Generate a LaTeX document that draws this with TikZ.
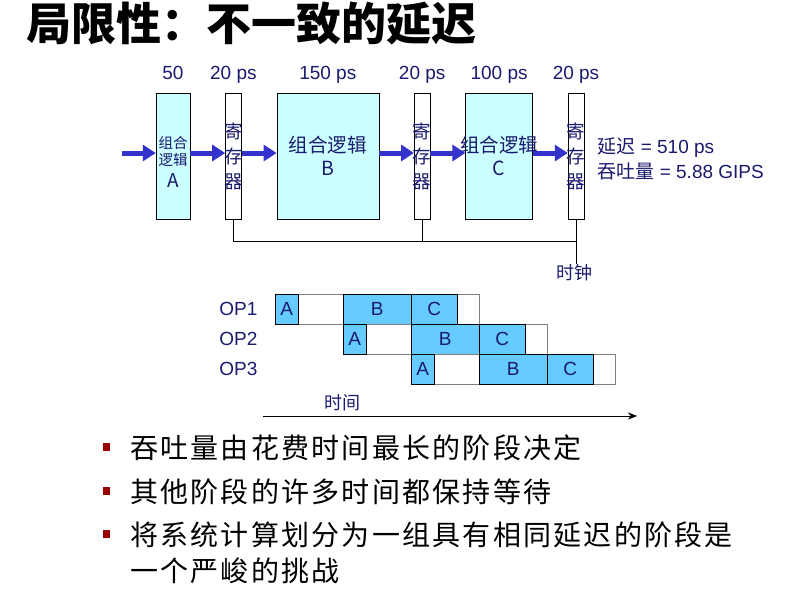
\documentclass[tikz,border=0pt]{standalone}
\usepackage{fontspec}
\setmainfont{Liberation Sans}
\newfontfamily\cjk{Noto Sans CJK SC}
\newfontfamily\cjkwide[LetterSpace=8]{Noto Sans CJK SC}
\usetikzlibrary{arrows.meta,positioning}

\definecolor{navy}{RGB}{26,26,110}
\definecolor{flowblue}{RGB}{51,51,204}
\definecolor{combfill}{RGB}{204,255,255}
\definecolor{cellfill}{RGB}{102,204,255}
\definecolor{bulletred}{RGB}{153,0,0}

\begin{document}
\begin{tikzpicture}[x=1pt, y=-1pt,
  comb/.style={rectangle, draw=black, fill=combfill, inner sep=0pt, minimum height=126pt},
  combtxt/.style={font=\cjk\fontsize{19.5}{23}\selectfont, text=navy, align=center, inner sep=0pt},
  reg/.style={rectangle, draw=black, fill=white, inner sep=0pt, minimum width=16pt, minimum height=126pt},
  regtxt/.style={font=\cjk\fontsize{18.5}{25}\selectfont, text=navy, align=center, inner sep=0pt},
  flow/.style={-{Triangle[length=13pt,width=16pt]}, line width=5pt, flowblue},
  delay/.style={font=\fontsize{19}{25}\selectfont, text=navy},
  toplabel/.style={delay, text height=14pt, text depth=4pt},
  slot/.style={rectangle, draw=gray, fill=white, inner sep=0pt, anchor=north west,
    minimum width=204pt, minimum height=30pt},
  cell/.style={rectangle, draw=black, fill=cellfill, inner sep=0pt, anchor=north west,
    minimum height=30pt, font=\fontsize{19}{22}\selectfont, text=navy},
  point/.style={font=\cjkwide\fontsize{28}{36}\selectfont, inner sep=0pt, align=left},
  node distance=35pt
]
  \useasboundingbox (0,0) rectangle (798,600);

  % title
  \node[anchor=west, font=\cjk\bfseries\fontsize{45}{48}\selectfont] (title) at (23,24) {局限性：不一致的延迟};

  % pipeline
  \node[comb, minimum width=34pt] (A) at (173,156) {};
  \node[reg, right=of A] (r1) {};
  \node[comb, minimum width=102pt, right=of r1] (B) {};
  \node[reg, right=of B] (r2) {};
  \node[comb, minimum width=67pt, right=of r2] (C) {};
  \node[reg, right=of C] (r3) {};
  \node[combtxt, font=\cjk\fontsize{14.5}{17}\selectfont] (Atxt) at ([yshift=-6pt]A) {组合\\逻辑\\[5pt]\fontsize{19}{22}\selectfont A};
  \node[combtxt] (Btxt) at (B) {组合逻辑\\B};
  \node[combtxt] (Ctxt) at (C) {组合逻辑\\C};
  \foreach \r in {r1,r2,r3}
    \node[regtxt] (\r txt) at (\r) {寄\\存\\器};

  % delays
  \node[toplabel, above=6pt of A] (dA) {50};
  \node[toplabel, above=6pt of r1] (d1) {20 ps};
  \node[toplabel, above=6pt of B] (dB) {150 ps};
  \node[toplabel, above=6pt of r2] (d2) {20 ps};
  \node[toplabel, above=6pt of C] (dC) {100 ps};
  \node[toplabel, above=6pt of r3] (d3) {20 ps};

  % flow arrows
  \coordinate (in) at (122,153);
  \draw[flow] (in) -- (in -| A.west);
  \draw[flow] ([yshift=3pt]A.east) -- ([yshift=3pt]r1.west);
  \draw[flow] ([yshift=3pt]r1.east) -- ([yshift=3pt]B.west);
  \draw[flow] ([yshift=3pt]B.east) -- ([yshift=3pt]r2.west);
  \draw[flow] ([yshift=3pt]r2.east) -- ([yshift=3pt]C.west);
  \draw[flow] ([yshift=3pt]C.east) -- ([yshift=3pt]r3.west);

  \node[delay, anchor=west, align=left] (perf) at (594,159)
    {{\cjk 延迟} = 510 ps\\{\cjk 吞吐量} = 5.88 GIPS};

  % clock
  \node[font=\cjk\fontsize{18}{22}\selectfont, text=navy, anchor=north, inner sep=0pt] (clk) at (574,264) {时钟};
  \draw (r1.south) -- ++(0,22) coordinate (tap) -| (r3.south);
  \draw (r2.south) -- (r2.south |- tap);
  \draw (r3.south) -- (r3.south |- clk.north);

  % timing
  \foreach \i/\op in {0/1,1/2,2/3} {
    \node[slot] (s\op) at ({275+68*\i},{294+30*\i}) {};
    \node[cell, minimum width=23pt] (a\op) at ({275+68*\i},{294+30*\i}) {A};
    \node[cell, minimum width=68pt] (b\op) at ({343+68*\i},{294+30*\i}) {B};
    \node[cell, minimum width=46pt] (c\op) at ({411+68*\i},{294+30*\i}) {C};
  }
  \node[delay, left=14pt of a1] (op1) {OP1};
  \node[delay] (op2) at (op1 |- a2) {OP2};
  \node[delay] (op3) at (op1 |- a3) {OP3};

  \coordinate (t0) at (263,416);
  \coordinate (t1) at (637,416);
  \draw[-{Stealth[length=9pt,width=7pt]}] (t0) -- (t1);
  \node[font=\cjk\fontsize{18}{22}\selectfont, text=navy] (tlab) at (342,403) {时间};

  % points
  \foreach \k/\y in {1/447,2/491,3/534}
    \node[rectangle, fill=bulletred, inner sep=0pt, minimum width=7pt, minimum height=8pt] (m\k) at (106,\y) {};
  \node[point, anchor=west] (p1) at (130,448) {吞吐量由花费时间最长的阶段决定};
  \node[point, anchor=west] (p2) at (130,492) {其他阶段的许多时间都保持等待};
  \node[point, anchor=west] (p3) at (130,553) {将系统计算划分为一组具有相同延迟的阶段是\\一个严峻的挑战};
\end{tikzpicture}
\end{document}
